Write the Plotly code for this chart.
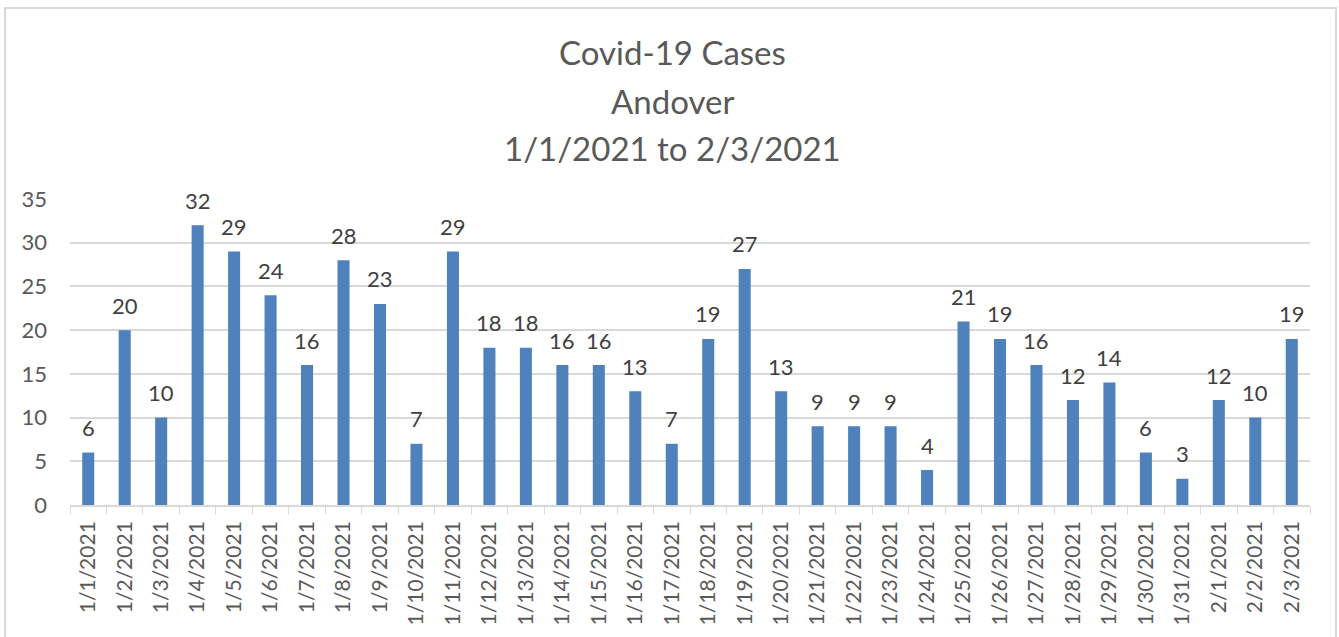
import plotly.graph_objects as go

dates = ["1/1/2021", "1/2/2021", "1/3/2021", "1/4/2021", "1/5/2021", "1/6/2021", "1/7/2021",
         "1/8/2021", "1/9/2021", "1/10/2021", "1/11/2021", "1/12/2021", "1/13/2021", "1/14/2021",
         "1/15/2021", "1/16/2021", "1/17/2021", "1/18/2021", "1/19/2021", "1/20/2021", "1/21/2021",
         "1/22/2021", "1/23/2021", "1/24/2021", "1/25/2021", "1/26/2021", "1/27/2021", "1/28/2021",
         "1/29/2021", "1/30/2021", "1/31/2021", "2/1/2021", "2/2/2021", "2/3/2021"]
cases = [6, 20, 10, 32, 29, 24, 16, 28, 23, 7, 29, 18, 18, 16, 16, 13, 7, 19, 27, 13, 9, 9, 9, 4,
         21, 19, 16, 12, 14, 6, 3, 12, 10, 19]
title_lines = ["Covid-19 Cases", "Andover", "1/1/2021 to 2/3/2021"]
y_ticks = [0, 5, 10, 15, 20, 25, 30, 35]

FONT = "Lato"
W, H = 1339, 637
L, R, T, B = 70, 29, 199, 132
PW, PH = W - L - R, H - T - B

fig = go.Figure()
fig.add_trace(go.Bar(x=dates, y=cases, marker=dict(color="#4F81BD", line=dict(width=0)),
                     hoverinfo="x+y"))

for d, v in zip(dates, cases):
    fig.add_annotation(x=d, y=v, text=str(v), showarrow=False, yanchor="middle", yshift=25,
                       font=dict(family=FONT, size=22, color="#404040"))

title_y_px = [52, 101, 148]
for t, yp in zip(title_lines, title_y_px):
    fig.add_annotation(xref="paper", yref="paper", x=(672 - L) / PW, y=(H - B - yp) / PH,
                       text=t, showarrow=False, xanchor="center", yanchor="middle",
                       font=dict(family=FONT, size=33, color="#595959"))

# chart border (bottom edge lies just below the visible area)
fig.add_shape(type="rect", xref="paper", yref="paper",
              x0=(5 - L) / PW, x1=(1336 - L) / PW,
              y0=(H - B - 645) / PH, y1=(H - B - 8) / PH,
              line=dict(color="#D9D9D9", width=2), layer="below")

fig.update_layout(
    width=W, height=H,
    margin=dict(l=L, r=R, t=T, b=B, autoexpand=False),
    paper_bgcolor="white", plot_bgcolor="white",
    bargap=0.67, showlegend=False,
    font=dict(family=FONT, color="#595959"),
)
fig.update_xaxes(type="category", tickangle=-90, tickfont=dict(family=FONT, size=21, color="#595959"),
                 showline=True, linecolor="#D9D9D9", linewidth=1.5, automargin=False,
                 ticks="outside", tickson="boundaries", ticklen=7, tickcolor="#D9D9D9",
                 ticklabelstandoff=6, showgrid=False)
fig.update_yaxes(range=[0, 35], tickvals=y_ticks, showgrid=True, gridcolor="#D9D9D9", gridwidth=1.5,
                 zeroline=False, showline=False, ticks="", automargin=False,
                 tickfont=dict(family=FONT, size=22, color="#595959"), ticklabelstandoff=22)

fig.write_html("out.html", config={"displayModeBar": False},
               post_script="document.body.style.margin='0';")
